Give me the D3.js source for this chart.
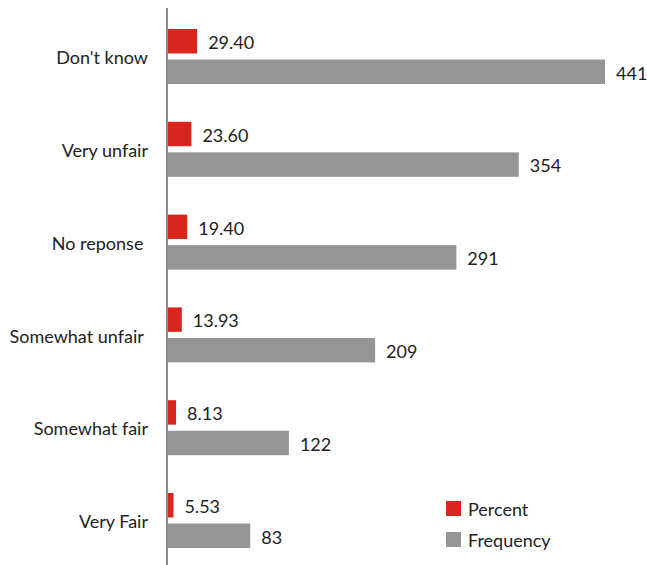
<!DOCTYPE html>
<html>
<head>
<meta charset="utf-8">
<script src="https://cdn.jsdelivr.net/npm/d3@7"></script>
<style>
  html, body { margin: 0; padding: 0; background: #fff; }
  svg text { font-family: Lato, "Open Sans", sans-serif; fill: #222; white-space: pre; }
</style>
</head>
<body>
<svg id="chart" width="647" height="565"></svg>
<script>
const categories = ["Don't know", "Very unfair", "No reponse ", "Somewhat unfair ", "Somewhat fair", "Very Fair"];
const percentValues = [29.40, 23.60, 19.40, 13.93, 8.13, 5.53];
const frequencyValues = [441, 354, 291, 209, 122, 83];
const percentLabels = ["29.40", "23.60", "19.40", "13.93", "8.13", "5.53"];
const seriesNames = ["Percent", "Frequency"];
const seriesColors = ["#d9261c", "#969595"];

const svg = d3.select("#chart");
const axisX = 167;
const fontSize = 18;

const x = d3.scaleLinear().domain([0, 441]).range([axisX + 1, 605]);
const y = d3.scaleBand().domain(categories).range([10, 10 + 6 * 92.8]);
const sub = d3.scaleBand().domain(seriesNames).range([0, 55]).paddingInner(0.2);

const rows = categories.map((c, i) => ({
  cat: c,
  values: [
    { key: "Percent", v: percentValues[i], label: percentLabels[i] },
    { key: "Frequency", v: frequencyValues[i], label: String(frequencyValues[i]) }
  ]
}));

const groups = svg.selectAll("g.row").data(rows).join("g")
  .attr("class", "row")
  .attr("transform", d => `translate(0,${y(d.cat) + 19})`);

groups.selectAll("rect").data(d => d.values).join("rect")
  .attr("x", x(0))
  .attr("y", d => sub(d.key))
  .attr("width", d => x(d.v) - x(0))
  .attr("height", sub.bandwidth())
  .attr("fill", (d, i) => seriesColors[i]);

groups.selectAll("text.val").data(d => d.values).join("text")
  .attr("class", "val")
  .attr("x", d => x(d.v) + 11)
  .attr("y", d => sub(d.key) + sub.bandwidth() / 2 + 1.5)
  .attr("dy", "0.35em")
  .attr("font-size", fontSize)
  .text(d => d.label);

groups.append("text")
  .attr("x", 148)
  .attr("y", 29)
  .attr("dy", "0.35em")
  .attr("text-anchor", "end")
  .attr("font-size", fontSize)
  .text(d => d.cat);

// vertical category axis
svg.append("line")
  .attr("x1", axisX).attr("x2", axisX)
  .attr("y1", 8).attr("y2", 565)
  .attr("stroke", "#8c8c8c").attr("stroke-width", 2);

// legend
const legend = svg.append("g").attr("transform", "translate(446,501)");
seriesNames.forEach((name, i) => {
  const g = legend.append("g").attr("transform", `translate(0,${i * 31})`);
  g.append("rect").attr("width", 15).attr("height", 15).attr("fill", seriesColors[i]);
  g.append("text").attr("x", 22).attr("y", 8.5).attr("dy", "0.35em")
    .attr("font-size", fontSize).text(name);
});
</script>
</body>
</html>
